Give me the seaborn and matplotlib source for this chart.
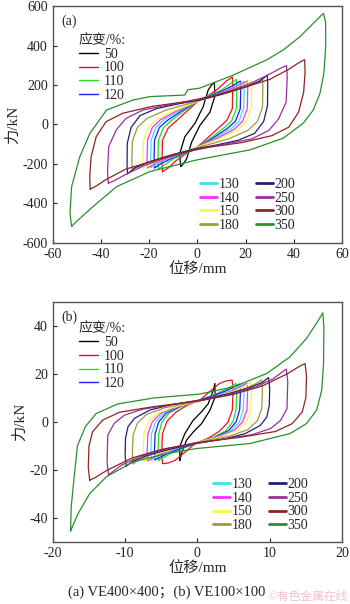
import numpy as np
import pandas as pd
import matplotlib
matplotlib.use("Agg")
import matplotlib.pyplot as plt
import seaborn as sns
from matplotlib.lines import Line2D

strains = [50, 100, 110, 120, 130, 140, 150, 180, 200, 250, 300, 350]
colors = ["#000000", "#e8141c", "#22dd22", "#1a1aff", "#40e0ea", "#ff2cff",
          "#f8f840", "#9a9a40", "#20206e", "#9b2f9f", "#8b2424", "#2a8f2a"]

# panel (a): rising branch of every loop, negative peak -> positive peak (mm, kN)
a_disp = [
    [-7, -7.3, -5.2, -1, 2.4, 4.5, 6.2, 7],
    [-14.5, -14.7, -14.5, -12.2, -9, -5, 0, 5, 9, 12, 14.5],
    [-16.2, -16.4, -16.2, -14.2, -11, -6, 0, 5, 10, 14, 16.2],
    [-17.8, -18, -17.8, -15.8, -12.5, -7, 0, 5, 10, 15, 17.8],
    [-19.2, -19.4, -19.2, -17.2, -14, -8, 0, 5, 11, 16, 19.2],
    [-20.7, -20.9, -20.7, -18.7, -15.3, -9, 0, 5, 11, 17, 20.7],
    [-22.4, -22.6, -22.4, -20.3, -16.8, -10, 0, 5, 12, 18, 22.4],
    [-27, -27.2, -27, -24.9, -21, -13, 0, 6, 14, 21, 25, 27],
    [-29, -29.2, -29.1, -27.5, -23.8, -17, -8, 1, 10, 20, 26, 29],
    [-37, -37.3, -36.8, -33.7, -29.6, -22.6, -11.5, 1, 12, 22, 30, 34.5, 37],
    [-44.5, -44.7, -44.1, -42, -37.9, -30.9, -18.5, -5, 8, 20, 30, 38, 42, 44.5],
    [-52.2, -52.9, -52.2, -48.8, -44.6, -37.7, -26.7, -19.7, -5.2, -4, 1, 14.9, 28.7, 35.6, 42.6, 49.5, 52.3],
]
a_force = [
    [-213, -146, -62, 6, 90, 175, 205, 213],
    [-240, -200, -80, -20, 15, 60, 115, 150, 185, 220, 240],
    [-228, -190, -80, -18, 18, 65, 118, 148, 175, 208, 228],
    [-220, -185, -80, -16, 20, 65, 118, 143, 168, 198, 220],
    [-218, -182, -80, -15, 22, 66, 117, 140, 168, 195, 218],
    [-220, -182, -80, -15, 24, 66, 116, 138, 165, 195, 220],
    [-222, -185, -80, -14, 26, 68, 116, 136, 165, 195, 222],
    [-232, -190, -85, -15, 30, 73, 118, 140, 165, 195, 215, 232],
    [-250, -205, -95, -15, 45, 80, 104, 124, 152, 190, 220, 250],
    [-298, -235, -112, -28, 31, 73, 100, 128, 165, 208, 255, 285, 298],
    [-328, -265, -163, -62, 14, 57, 92, 115, 148, 190, 228, 280, 312, 328],
    [-517, -450, -315, -163, -45, 73, 124, 141, 149, 176, 184, 250, 327, 377, 445, 529, 563],
]
# the 350 % loop is not point-symmetric, its falling branch is read on its own
a350_fall_disp = [52.3, 53.2, 53.3, 52.5, 50.9, 48.1, 43.9, 35.6, 21.8, -0.3, -19.7, -33.5, -43.3, -50.2, -52.2]
a350_fall_force = [563, 520, 400, 260, 158, 73, 6, -70, -129, -180, -239, -315, -416, -492, -517]

# panel (b)
b_disp = [
    [-2.42, -2.45, -1.74, -0.58, 0.57, 1.5, 2.2, 2.42],
    [-4.8, -4.95, -4.83, -4.2, -3.0, -1.5, 0.35, 1.97, 3.1, 4.1, 4.8],
    [-5.35, -5.45, -5.35, -4.9, -3.9, -2.2, 0, 2.0, 3.6, 4.8, 5.35],
    [-5.85, -5.95, -5.85, -5.35, -4.3, -2.5, 0, 2.3, 4.0, 5.2, 5.85],
    [-6.35, -6.45, -6.35, -5.8, -4.7, -2.8, 0, 2.6, 4.4, 5.7, 6.35],
    [-6.85, -6.95, -6.85, -6.25, -5.1, -3.1, 0, 2.8, 4.8, 6.2, 6.85],
    [-7.4, -7.5, -7.4, -6.8, -5.6, -3.5, 0, 3.0, 5.2, 6.7, 7.4],
    [-8.9, -9.0, -8.9, -8.3, -7.0, -4.5, 0, 3.5, 6.2, 8.0, 8.9],
    [-9.85, -10, -9.95, -9.6, -8.7, -6.6, -3.9, 0.3, 4.0, 7.0, 9.0, 9.85],
    [-12.3, -12.5, -12.4, -11.5, -10.1, -7.6, -3.9, 0.3, 4, 8, 10.5, 11.8, 12.3],
    [-14.9, -15.1, -15, -14.5, -13.1, -10.8, -6.2, 0.3, 5, 9, 12.4, 14.2, 14.9],
    [-17.55, -17.46, -17.1, -16.6, -15.5, -14, -11, -6, 0.3, 5, 9.6, 12.8, 15.1, 16.75, 17.35],
]
b_force = [
    [-16, -10.4, -4.9, 0.7, 4.2, 7.6, 13.2, 16],
    [-17.4, -14, -4.9, 0.3, 4.0, 6.8, 9.1, 13.3, 16.1, 17.2, 17.4],
    [-16, -12.5, -5, 0, 3.8, 6.5, 8.8, 11, 13, 15, 16],
    [-15.8, -12.5, -5, 0, 3.7, 6.3, 8.7, 11, 13, 14.8, 15.8],
    [-15.8, -12.5, -5, 0, 3.6, 6.2, 8.6, 10.8, 12.8, 14.8, 15.8],
    [-16.2, -12.8, -5, 0, 3.5, 6.0, 8.6, 10.8, 12.9, 15, 16.2],
    [-16.5, -13, -5, -0.2, 3.4, 5.9, 8.5, 10.8, 13, 15.2, 16.5],
    [-17.5, -13.5, -5.5, -0.5, 3.2, 5.9, 8.5, 11, 13.4, 15.8, 17.5],
    [-18.5, -14, -6.9, -2, 1.5, 4.9, 7.0, 9.1, 11.5, 14, 16.5, 18.5],
    [-22, -17, -5.5, -0.6, 2.8, 5.3, 7, 9, 11, 14.5, 18, 21, 22],
    [-24.3, -19, -10, -4.1, 0.75, 4.0, 6.3, 8.8, 11.5, 15, 20, 23.3, 24.3],
    [-45.5, -35.5, -24.3, -10, -2, 3.5, 7.5, 10, 11.6, 14.6, 20.2, 27.1, 34.8, 42.4, 45.5],
]
b350_fall_disp = [17.35, 17.5, 17.45, 17.2, 16.5, 15.1, 12.8, 7.3, -0.1, -4.3, -8.9, -12.6, -14.9, -16.5, -17.55]
b350_fall_force = [45.5, 39.6, 24.3, 13.2, 4.9, -0.7, -4.9, -9, -11.1, -13.2, -16.7, -22.9, -29.9, -38.2, -45.5]


def loops_frame(disp, force, fall_d, fall_f):
    rows = []
    for s, d, f in zip(strains, disp, force):
        if s == 350:
            dd = d + fall_d[1:]
            ff = f + fall_f[1:]
        else:
            dd = d + [-v for v in d[1:]]
            ff = f + [-v for v in f[1:]]
        for k, (x, y) in enumerate(zip(dd, ff)):
            rows.append((s, k, x, y))
    return pd.DataFrame(rows, columns=["strain", "k", "disp", "force"])


sns.set_style("ticks")
plt.rcParams["font.family"] = ["Liberation Serif", "Noto Sans CJK SC"]
plt.rcParams["axes.unicode_minus"] = False

fig = plt.figure(figsize=(3.5, 6.04), dpi=100)
ax_a = fig.add_axes([0.151, 0.598, 0.826, 0.392])
ax_b = fig.add_axes([0.151, 0.103, 0.826, 0.397])

pal = dict(zip(strains, colors))
panels = [
    (ax_a, loops_frame(a_disp, a_force, a350_fall_disp, a350_fall_force), (-60, 60), (-600, 600),
     np.arange(-60, 61, 20), np.arange(-600, 601, 200), "(a)", (0.09, 0.882), (0.87, 0.005)),
    (ax_b, loops_frame(b_disp, b_force, b350_fall_disp, b350_fall_force), (-20, 20), (-50, 50),
     np.arange(-20, 21, 10), np.arange(-40, 41, 20), "(b)", (0.09, 0.915), (0.915, 0.0)),
]

for ax, df, xl, yl, xt, yt, tag, anc1, anc2 in panels:
    sns.lineplot(data=df, x="disp", y="force", hue="strain", palette=pal, sort=False,
                 estimator=None, units="strain", lw=0.9, legend=False, ax=ax)
    ax.set_xlim(*xl)
    ax.set_ylim(*yl)
    ax.set_xticks(xt)
    ax.set_yticks(yt)
    ax.tick_params(direction="in", length=3, width=0.8, labelsize=10, colors="#222222")
    for sp in ax.spines.values():
        sp.set_color("#555555")
        sp.set_linewidth(1.0)
    ax.set_xlabel("位移/mm", fontsize=11, labelpad=1)
    ax.set_ylabel("力/kN", fontsize=11, labelpad=2)
    ax.text(0.03, 0.965, tag, transform=ax.transAxes, fontsize=10, va="top", ha="left")

    h1 = [Line2D([], [], color=pal[s], lw=1) for s in strains[:4]]
    leg1 = ax.legend(h1, [str(s) for s in strains[:4]], loc="upper left",
                     bbox_to_anchor=anc1, frameon=False, fontsize=10,
                     handlelength=1.4, handletextpad=0.4, labelspacing=0.05,
                     borderaxespad=0, borderpad=0, title="应变/%:", title_fontsize=10,
                     alignment="left")
    ax.add_artist(leg1)
    h2 = [Line2D([], [], color=pal[s], lw=2) for s in strains[4:]]
    ax.legend(h2, [str(s) for s in strains[4:]], loc="lower right",
              bbox_to_anchor=anc2, frameon=False, fontsize=10, ncol=2,
              handlelength=1.2, handletextpad=0.1, labelspacing=0.05,
              columnspacing=1.2, borderaxespad=0.3)

fig.text(0.475, 0.02, "(a) VE400×400；(b) VE100×100", ha="center", va="center", fontsize=10.5)
fig.text(0.995, 0.012, "©有色金属在线", ha="right", va="center", fontsize=8.5, color="#f2c0ca")

fig.savefig("out.png", dpi=100)
